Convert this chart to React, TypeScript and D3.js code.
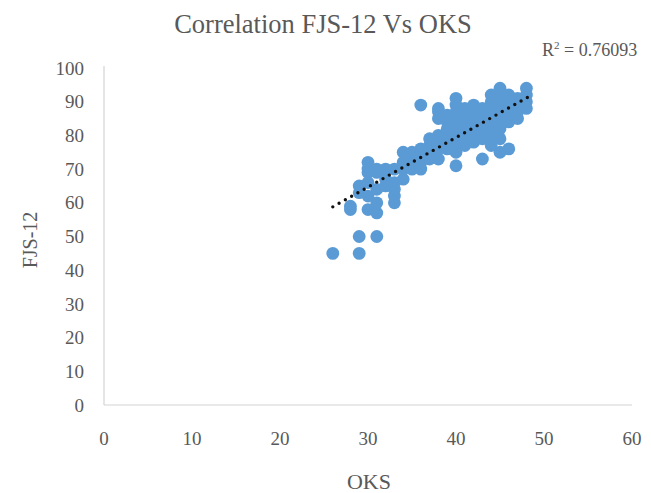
import { useEffect, useRef } from "react";
import * as d3 from "d3";

const WIDTH = 651;
const HEIGHT = 493;

// OKS score (x) and FJS-12 score (y)
const oks = [
  26,
  28, 28,
  29, 29, 29, 29,
  30, 30, 30, 30, 30, 30,
  31, 31, 31, 31, 31, 31,
  32, 32, 32,
  33, 33, 33, 33, 33,
  34, 34, 34, 34,
  35, 35, 35, 35,
  36, 36, 36, 36, 36,
  37, 37, 37, 37,
  38, 38, 38, 38, 38, 38, 38,
  39, 39, 39, 39, 39, 39,
  40, 40, 40, 40, 40, 40, 40, 40, 40,
  41, 41, 41, 41, 41, 41,
  42, 42, 42, 42, 42, 42,
  43, 43, 43, 43, 43, 43,
  44, 44, 44, 44, 44, 44, 44, 44,
  45, 45, 45, 45, 45, 45, 45, 45,
  46, 46, 46, 46, 46, 46,
  47, 47, 47, 47,
  48, 48, 48, 48,
];
const fjs = [
  45,
  58, 59,
  45, 50, 63, 65,
  58, 62, 66, 69, 70, 72,
  50, 57, 60, 64, 69, 70,
  65, 67, 70,
  60, 62, 64, 66, 70,
  67, 70, 72, 75,
  70, 72, 74, 75,
  70, 72, 74, 76, 89,
  73, 75, 77, 79,
  73, 76, 78, 80, 85, 87, 88,
  76, 78, 80, 82, 84, 86,
  71, 75, 77, 80, 82, 85, 87, 89, 91,
  77, 79, 81, 84, 86, 88,
  78, 80, 83, 85, 87, 89,
  73, 79, 82, 84, 86, 88,
  77, 80, 82, 84, 86, 88, 90, 92,
  75, 79, 82, 85, 87, 89, 91, 94,
  76, 84, 86, 88, 90, 92,
  85, 87, 89, 91,
  88, 90, 92, 94,
];

// linear trendline as shown on the chart
const trendOks = [26, 48.2];
const trendFjs = [58.8, 91.4];
const rSquared = "0.76093";

const xTicks = [0, 10, 20, 30, 40, 50, 60];
const yTicks = [0, 10, 20, 30, 40, 50, 60, 70, 80, 90, 100];

const TEXT = "#595959";
const FONT = "'Liberation Serif', 'Times New Roman', serif";

export default function App() {
  const svgRef = useRef<SVGSVGElement>(null);

  useEffect(() => {
    const svgEl = svgRef.current;
    if (!svgEl) return;
    const svg = d3.select(svgEl);
    svg.selectAll("*").remove();

    const x = d3.scaleLinear().domain([0, 60]).range([104, 632]);
    const y = d3.scaleLinear().domain([0, 100]).range([405, 68]);

    svg.append("rect").attr("width", WIDTH).attr("height", HEIGHT).attr("fill", "#fff");

    // axis lines
    svg
      .append("line")
      .attr("x1", x(0))
      .attr("x2", x(0))
      .attr("y1", y(100) - 2)
      .attr("y2", y(0))
      .attr("stroke", "#d4d4d4")
      .attr("stroke-width", 1.2);
    svg
      .append("line")
      .attr("x1", x(0))
      .attr("x2", x(60))
      .attr("y1", y(0))
      .attr("y2", y(0))
      .attr("stroke", "#d4d4d4")
      .attr("stroke-width", 1.2);

    svg
      .selectAll("text.ytick")
      .data(yTicks)
      .join("text")
      .attr("class", "ytick")
      .attr("x", 84)
      .attr("y", (d) => y(d))
      .attr("dy", "0.35em")
      .attr("text-anchor", "end")
      .attr("font-family", FONT)
      .attr("font-size", 19)
      .attr("fill", TEXT)
      .text((d) => d);

    svg
      .selectAll("text.xtick")
      .data(xTicks)
      .join("text")
      .attr("class", "xtick")
      .attr("x", (d) => x(d))
      .attr("y", 445)
      .attr("text-anchor", "middle")
      .attr("font-family", FONT)
      .attr("font-size", 19)
      .attr("fill", TEXT)
      .text((d) => d);

    // points
    const pts = oks.map((o, i) => ({ o, f: fjs[i] }));
    svg
      .append("g")
      .selectAll("circle")
      .data(pts)
      .join("circle")
      .attr("cx", (d) => x(d.o))
      .attr("cy", (d) => y(d.f))
      .attr("r", 6.4)
      .attr("fill", "#5b9bd5");

    // dotted trendline
    const line = d3
      .line<number>()
      .x((d) => x(d))
      .y((_d, i) => y(trendFjs[i]));
    svg
      .append("path")
      .attr("d", line(trendOks))
      .attr("fill", "none")
      .attr("stroke", "#111")
      .attr("stroke-width", 3.4)
      .attr("stroke-linecap", "round")
      .attr("stroke-dasharray", "0 7.2");

    // titles
    svg
      .append("text")
      .attr("x", 323)
      .attr("y", 33)
      .attr("text-anchor", "middle")
      .attr("font-family", FONT)
      .attr("font-size", 26.5)
      .attr("fill", TEXT)
      .text("Correlation FJS-12 Vs OKS");

    const r2 = svg
      .append("text")
      .attr("x", 542)
      .attr("y", 56)
      .attr("font-family", FONT)
      .attr("font-size", 18)
      .attr("fill", TEXT);
    r2.append("tspan").text("R");
    r2.append("tspan").attr("font-size", 11).attr("dy", -7).text("2");
    r2.append("tspan").attr("dy", 7).text(` = ${rSquared}`);

    svg
      .append("text")
      .attr("x", 369)
      .attr("y", 489)
      .attr("text-anchor", "middle")
      .attr("font-family", FONT)
      .attr("font-size", 22)
      .attr("fill", TEXT)
      .text("OKS");

    svg
      .append("text")
      .attr("transform", `translate(37, 240) rotate(-90)`)
      .attr("text-anchor", "middle")
      .attr("font-family", FONT)
      .attr("font-size", 20)
      .attr("fill", TEXT)
      .text("FJS-12");
  }, []);

  return (
    <div style={{ position: "absolute", left: 0, top: 0 }}>
      <svg ref={svgRef} width={WIDTH} height={HEIGHT} style={{ display: "block" }} />
    </div>
  );
}
